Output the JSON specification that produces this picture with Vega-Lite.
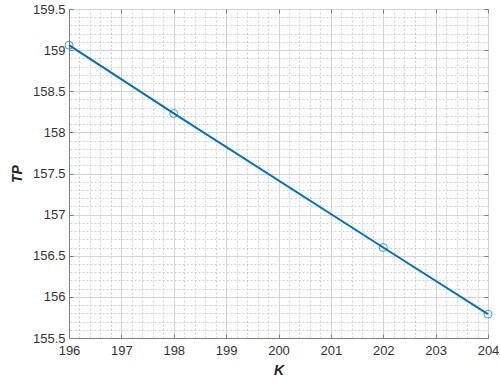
{
  "$schema": "https://vega.github.io/schema/vega-lite/v6.json",
  "width": 419,
  "height": 329,
  "autosize": {"type": "none"},
  "padding": {"left": 69, "top": 9, "right": 12, "bottom": 38},
  "background": "white",
  "config": {
    "font": "Liberation Sans",
    "view": {"stroke": "#7f7f7f", "strokeWidth": 1},
    "axis": {"labelFont": "Liberation Sans", "titleFont": "Liberation Sans", "labelFlush": false, "labelOverlap": false}
  },
  "data": {"values": [
    {"K": 196, "TP": 159.06},
    {"K": 198, "TP": 158.23},
    {"K": 202, "TP": 156.60},
    {"K": 204, "TP": 155.79}
  ]},
  "encoding": {
    "x": {"field": "K", "type": "quantitative", "scale": {"domain": [196, 204], "nice": false, "zero": false}},
    "y": {"field": "TP", "type": "quantitative", "scale": {"domain": [155.5, 159.5], "nice": false, "zero": false}}
  },
  "layer": [
    {
      "mark": {"type": "point", "opacity": 0},
      "encoding": {
        "x": {"field": "K", "type": "quantitative", "axis": {"orient": "top", "title": null, "labels": false, "ticks": false, "domain": false, "grid": true, "gridColor": "#cfcfcf", "gridDash": [2, 2], "gridWidth": 1,
          "values": [196,196.2,196.4,196.6,196.8,197,197.2,197.4,197.6,197.8,198,198.2,198.4,198.6,198.8,199,199.2,199.4,199.6,199.8,200,200.2,200.4,200.6,200.8,201,201.2,201.4,201.6,201.8,202,202.2,202.4,202.6,202.8,203,203.2,203.4,203.6,203.8,204]}},
        "y": {"field": "TP", "type": "quantitative", "axis": {"orient": "right", "title": null, "labels": false, "ticks": false, "domain": false, "grid": true, "gridColor": "#cfcfcf", "gridDash": [2, 2], "gridWidth": 1,
          "values": [155.5,155.6,155.7,155.8,155.9,156,156.1,156.2,156.3,156.4,156.5,156.6,156.7,156.8,156.9,157,157.1,157.2,157.3,157.4,157.5,157.6,157.7,157.8,157.9,158,158.1,158.2,158.3,158.4,158.5,158.6,158.7,158.8,158.9,159,159.1,159.2,159.3,159.4,159.5]}}
      }
    },
    {
      "mark": {"type": "point", "opacity": 0},
      "encoding": {
        "x": {"field": "K", "type": "quantitative", "axis": {"orient": "top", "title": null, "labels": false, "ticks": true, "tickSize": -4, "tickColor": "#7f7f7f", "domain": false, "grid": false, "values": [196,197,198,199,200,201,202,203,204]}},
        "y": {"field": "TP", "type": "quantitative", "axis": {"orient": "right", "title": null, "labels": false, "ticks": true, "tickSize": -4, "tickColor": "#7f7f7f", "domain": false, "grid": false, "values": [155.5,156,156.5,157,157.5,158,158.5,159,159.5]}}
      }
    },
    {
      "mark": {"type": "line", "color": "#0072BD", "strokeWidth": 2},
      "encoding": {
        "x": {"field": "K", "type": "quantitative", "axis": {"orient": "bottom", "title": "K", "titleFontSize": 14, "titleFontWeight": "bold", "titleFontStyle": "italic", "titleColor": "#262626", "titlePadding": 6,
          "labelFontSize": 13, "labelColor": "#333333", "labelPadding": 10, "tickSize": -4, "tickColor": "#7f7f7f", "domainColor": "#7f7f7f", "grid": true, "gridColor": "#d4d4d4", "gridWidth": 1,
          "values": [196,197,198,199,200,201,202,203,204], "format": "d"}},
        "y": {"field": "TP", "type": "quantitative", "axis": {"orient": "left", "title": "TP", "titleFontSize": 14, "titleFontWeight": "bold", "titleFontStyle": "italic", "titleColor": "#262626", "titlePadding": 8,
          "labelFontSize": 13, "labelColor": "#333333", "labelPadding": 8, "tickSize": -4, "tickColor": "#7f7f7f", "domainColor": "#7f7f7f", "grid": true, "gridColor": "#d4d4d4", "gridWidth": 1,
          "values": [155.5,156,156.5,157,157.5,158,158.5,159,159.5], "format": "~g"}}
      }
    },
    {
      "mark": {"type": "point", "shape": "circle", "filled": false, "color": "#0072BD", "size": 64, "strokeWidth": 1},
      "encoding": {
        "x": {"field": "K", "type": "quantitative", "axis": null},
        "y": {"field": "TP", "type": "quantitative", "axis": null}
      }
    }
  ],
  "resolve": {"axis": {"x": "independent", "y": "independent"}}
}
